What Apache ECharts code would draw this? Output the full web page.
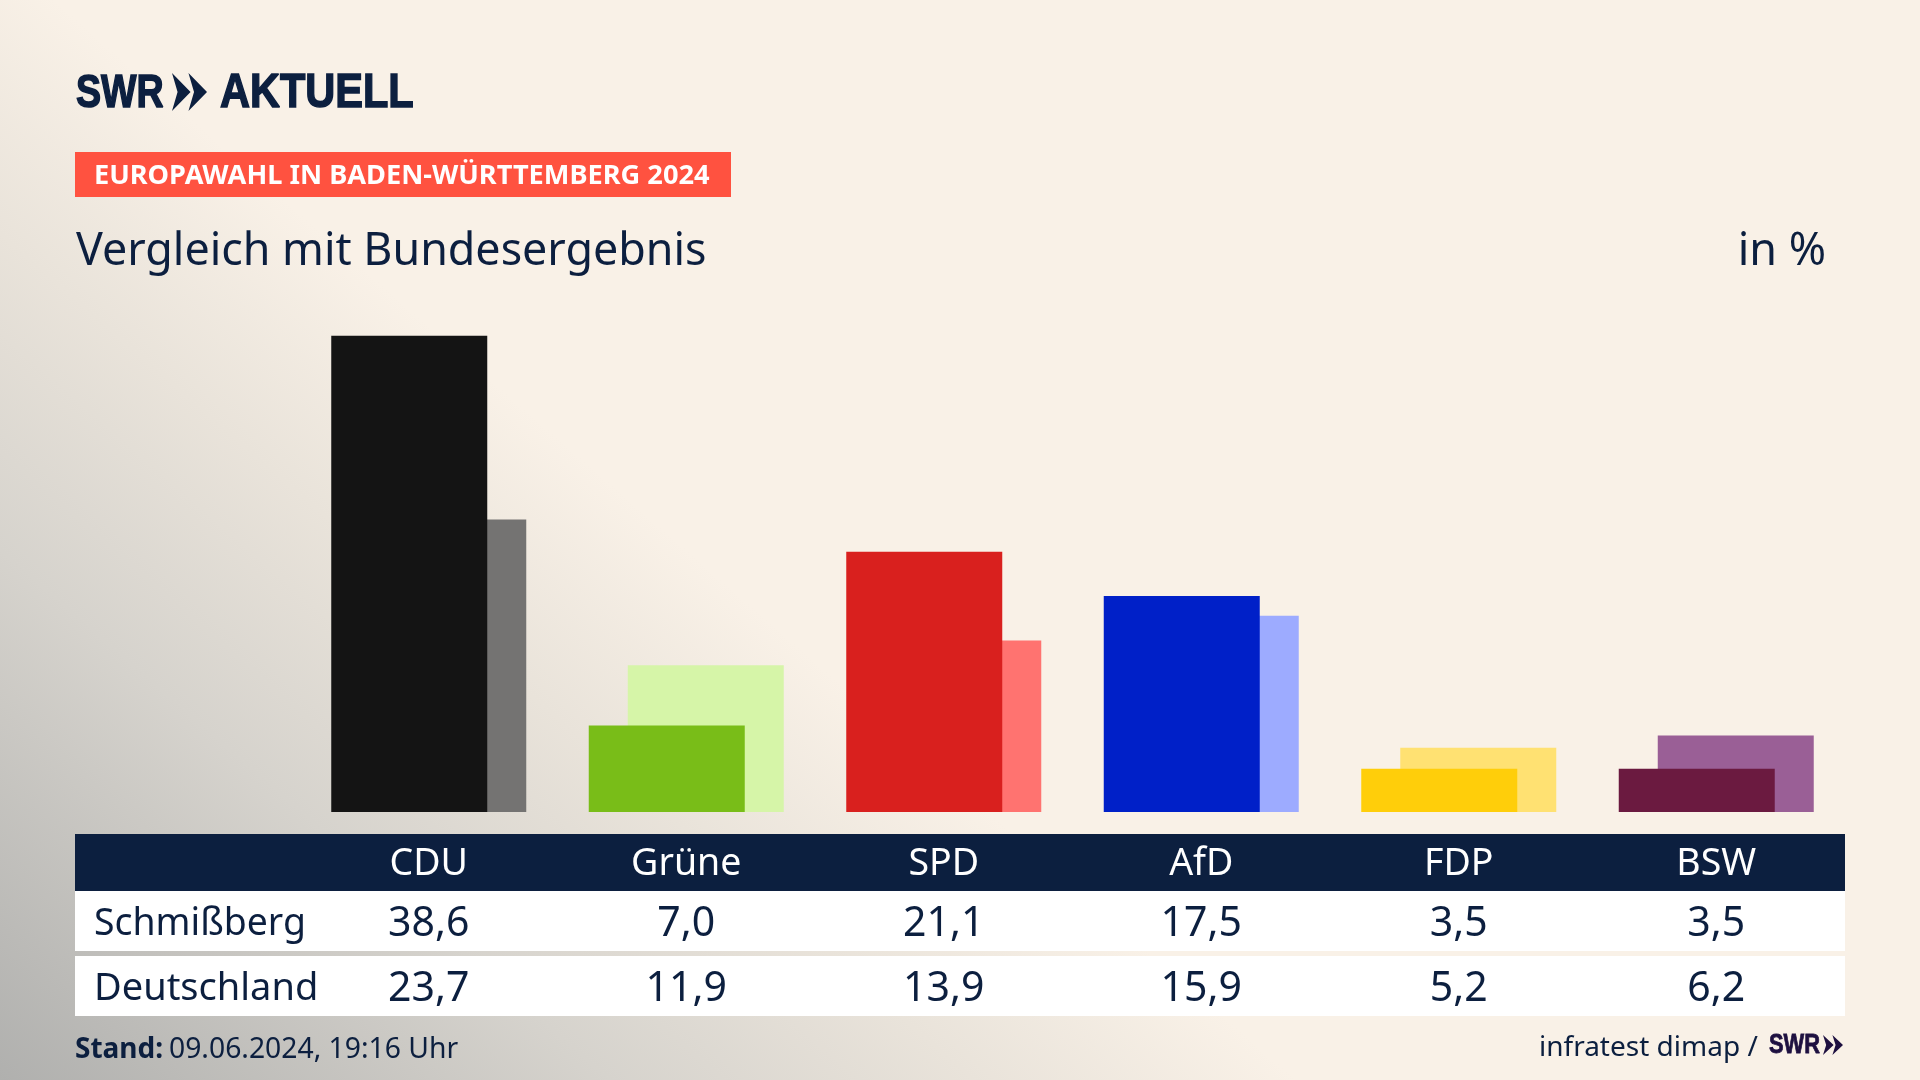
<!DOCTYPE html>
<html lang="de" style="height: 100%">
<head>
  <meta charset="utf-8">
</head>
<body style="height: 100%; margin: 0; background: linear-gradient(41deg, #b0b0ae 0%, #d6d3cd 19.3%, #e9e3da 30.8%, #f9f1e7 41%, #f9f1e7 100%)">
  <div id="container" style="height: 100%"></div>
  <script src="https://cdn.jsdelivr.net/npm/echarts@6/dist/echarts.min.js"></script>
  <script>
    var categories = ['CDU', 'Grüne', 'SPD', 'AfD', 'FDP', 'BSW'];
    var schmissberg = [38.6, 7.0, 21.1, 17.5, 3.5, 3.5];
    var deutschland = [23.7, 11.9, 13.9, 15.9, 5.2, 6.2];
    var strongColors = ['#141414', '#79bd18', '#d9201e', '#0020c8', '#ffce0a', '#6b1a40'];
    var paleColors = ['#747372', '#d6f5a8', '#ff7370', '#9dabff', '#ffe172', '#9a5f96'];

    var navy = '#0c1f3f';
    var font = 'Noto Sans';
    var logoFont = 'Liberation Sans';

    function comma(v) {
      return v.toFixed(1).replace('.', ',');
    }

    function text(x, y, str, size, opts) {
      opts = opts || {};
      return {
        type: 'text', x: x, y: y, z: 5,
        scaleX: opts.scaleX || 1,
        style: {
          text: str,
          fontFamily: opts.family || font,
          fontSize: size,
          fontWeight: opts.weight || 'normal',
          fill: opts.color || navy,
          stroke: opts.heavy ? (opts.color || navy) : null,
          lineWidth: opts.heavy || 0,
          textAlign: opts.align || 'left',
          textVerticalAlign: 'middle'
        }
      };
    }

    function box(x, y, w, h, color) {
      return { type: 'rect', z: 1, shape: { x: x, y: y, width: w, height: h }, style: { fill: color } };
    }

    // the two arrows of the SWR logo
    function arrows(x, y, w, h, color) {
      var a = w * 0.53, out = [];
      [0, w - a].forEach(function (dx) {
        out.push({
          type: 'polygon', z: 5,
          shape: { points: [[x + dx, y], [x + dx + a, y + h / 2], [x + dx, y + h], [x + dx + a * 0.3, y + h / 2]] },
          style: { fill: color }
        });
      });
      return out;
    }

    function tableAxis(data, offset, size, margin) {
      return {
        type: 'category',
        position: 'bottom',
        offset: offset,
        z: 10,
        data: data,
        axisLine: { show: false },
        axisTick: { show: false },
        axisLabel: {
          interval: 0,
          margin: margin,
          fontFamily: font,
          fontSize: size,
          color: offset === 0 ? '#ffffff' : navy,
          verticalAlign: 'middle'
        }
      };
    }

    var chart = echarts.init(document.getElementById('container'), null, { renderer: 'canvas' });

    var option = {
      animation: false,
      backgroundColor: 'transparent',
      grid: { left: 300, right: 75, top: 318.4, bottom: 268 },
      yAxis: { type: 'value', min: 0, max: 40, show: false },
      xAxis: [
        tableAxis(categories, 0, 37.5, 52.5),
        tableAxis(schmissberg.map(comma), 0.001, 41, 112),
        tableAxis(deutschland.map(comma), 0.002, 41, 177)
      ],
      series: [
        {
          name: 'Schmißberg', type: 'bar', z: 3,
          barWidth: 156, barGap: '-75%',
          data: schmissberg.map(function (v, i) { return { value: v, itemStyle: { color: strongColors[i] } }; })
        },
        {
          name: 'Deutschland', type: 'bar', z: 2,
          barWidth: 156, barGap: '-75%',
          data: deutschland.map(function (v, i) { return { value: v, itemStyle: { color: paleColors[i] } }; })
        }
      ],
      graphic: [
        box(75, 152, 656, 45, '#ff5240'),
        box(75, 834, 1770, 57, navy),
        box(75, 891, 1770, 60, '#ffffff'),
        box(75, 956, 1770, 60, '#ffffff'),
        text(76, 94, 'SWR', 47, { weight: 'bold', family: logoFont, scaleX: 0.8, heavy: 1.5 }),
        text(220, 94, 'AKTUELL', 48, { weight: 'bold', family: logoFont, scaleX: 0.865, heavy: 1.5 }),
        text(94, 176, 'EUROPAWAHL IN BADEN-WÜRTTEMBERG 2024', 27.2, { weight: 'bold', color: '#ffffff' }),
        text(76, 252, 'Vergleich mit Bundesergebnis', 44.8),
        text(1826, 252, 'in %', 44.9, { align: 'right' }),
        text(94, 924, 'Schmißberg', 37.4),
        text(94, 989, 'Deutschland', 38),
        text(75, 1050, 'Stand:', 28, { weight: 'bold' }),
        text(169, 1050, '09.06.2024, 19:16 Uhr', 28.3),
        text(1539, 1048, 'infratest dimap /', 28),
        text(1769, 1046, 'SWR', 27, { weight: 'bold', color: '#1e1040', family: logoFont, scaleX: 0.81, heavy: 0.8 })
      ].concat(arrows(172, 73, 35, 38, navy), arrows(1823, 1035, 20, 20, '#1e1040'))
    };

    chart.setOption(option);
    window.addEventListener('resize', chart.resize);
  </script>
</body>
</html>
